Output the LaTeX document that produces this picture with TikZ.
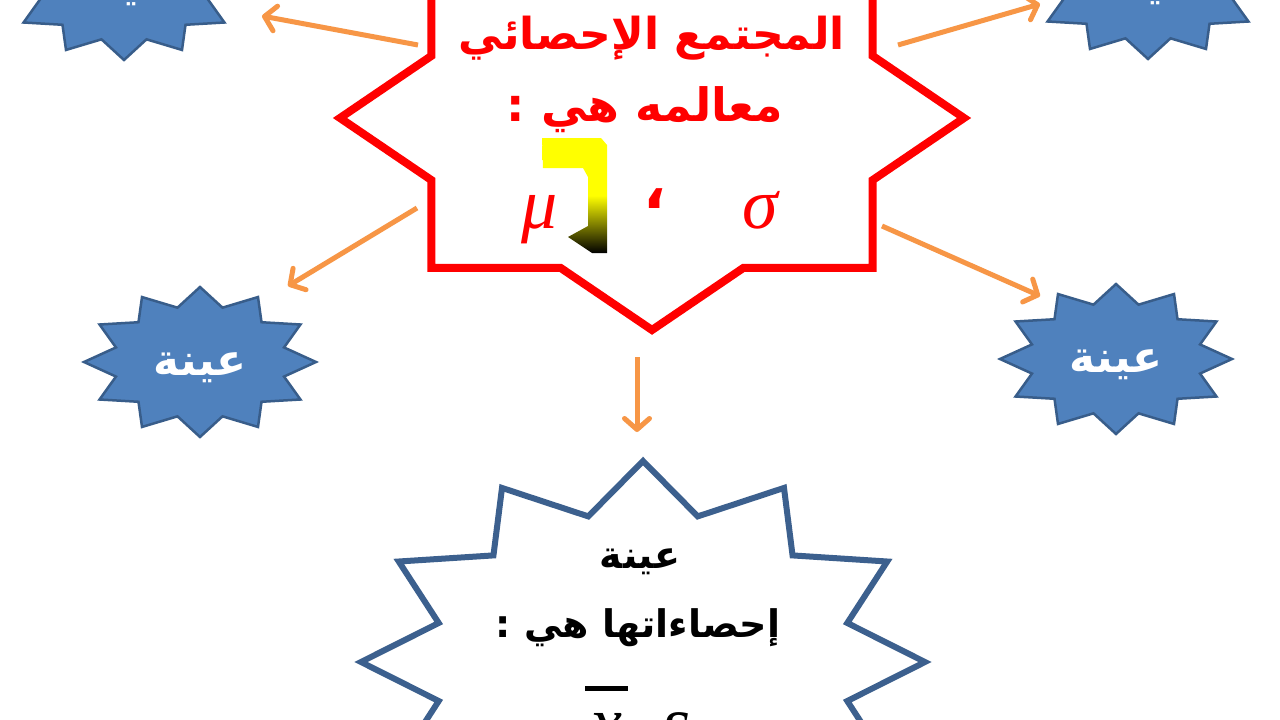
\documentclass[tikz,border=0pt]{standalone}
\usepackage{fontspec}
\newfontfamily\arabicfont[Script=Arabic]{DejaVu Sans}
\newfontfamily\greekfont{Liberation Serif}
\TeXXeTstate=1
\usetikzlibrary{arrows.meta}
\definecolor{popred}{RGB}{255,0,0}
\definecolor{arroworange}{RGB}{247,150,70}
\definecolor{starblue}{RGB}{79,129,189}
\definecolor{starblueline}{RGB}{56,93,138}
\definecolor{sampleline}{RGB}{60,96,142}
\definecolor{shapeyellow}{RGB}{255,255,0}

\begin{document}
\begin{tikzpicture}[x=1pt, y=-1pt,
  popstar/.style={draw=popred, fill=white, line width=8pt, line join=miter},
  bluestar/.style={draw=starblueline, fill=starblue, line width=2.5pt, line join=miter},
  samplestar/.style={draw=sampleline, fill=white, line width=6pt, line join=miter},
  linkarrow/.style={-{Straight Barb[length=11pt, width=25pt, round]}, arroworange, line width=5pt},
  poptext/.style={font=\arabicfont\bfseries\fontsize{44}{52}\selectfont, text=popred},
  startext/.style={font=\arabicfont\bfseries\fontsize{44}{50}\selectfont, text=white},
  sampletext/.style={font=\arabicfont\bfseries\fontsize{38}{44}\selectfont, text=black},
  greek/.style={font=\greekfont\itshape\fontsize{72}{80}\selectfont, text=popred, anchor=base}]
\useasboundingbox (0,0) rectangle (1280,720);
\fill[white] (0,0) rectangle (1280,720);
\clip (0,0) rectangle (1280,720);

\coordinate (tl-tail) at (418,45);
\coordinate (tl-tip) at (262,16);
\coordinate (tr-tail) at (898,45);
\coordinate (tr-tip) at (1040,4);
\coordinate (l-tail) at (417,208);
\coordinate (l-tip) at (288,286);
\coordinate (r-tail) at (882,226);
\coordinate (r-tip) at (1040,296);
\coordinate (down-tail) at (637,357);
\coordinate (down-tip) at (637,432);
\foreach \nm in {tl,tr,l,r,down}
  \draw[linkarrow] (\nm-tail) -- (\nm-tip);

\draw[popstar, shift={(652,118)}] (0:312 and 212)
  \foreach \i [evaluate=\i as \f using {1-0.2346*mod(\i,2)}] in {1,...,15} { -- (\i*22.5:\f*312 and \f*212) } -- cycle;

\foreach \cx/\cy/\nm in {124/-15/tl, 1148/-16/tr, 200/362/l, 1116/359/r} {
  \draw[bluestar, shift={(\cx,\cy)}] (0:116 and 75)
    \foreach \i [evaluate=\i as \f using {1-0.25*mod(\i,2)}] in {1,...,23} { -- (\i*15:\f*116 and \f*75) } -- cycle;
  \node[startext] (sample-\nm) at (\cx,\cy+6) {\beginR عينة\endR};
}

\draw[samplestar, shift={(643,662)}] (0:282 and 201)
  \foreach \i [evaluate=\i as \f using {1-0.25*mod(\i,2)}] in {1,...,23} { -- (\i*15:\f*282 and \f*201) } -- cycle;

\shade[top color=shapeyellow, bottom color=black, middle color=shapeyellow]
  (542,138) -- (601,138) -- (607,145) -- (607,253) -- (592,253) -- (568,237)
  -- (588,226) -- (588,177) -- (583,168) -- (543,168) -- cycle;

\node[poptext] (pop-title) at (652,38) {\beginR المجتمع الإحصائي\endR};
\node[poptext, font=\arabicfont\bfseries\fontsize{46}{52}\selectfont] (pop-params) at (645,110) {\beginR معالمه هي :\endR};
\node[greek] (mu) at (540,228) {μ};
\node[poptext, font=\arabicfont\bfseries\fontsize{60}{60}\selectfont] (comma) at (655,199) {،};
\node[greek] (sigma) at (760,228) {σ};

\node[sampletext] (sample-title) at (640,562) {\beginR عينة\endR};
\node[sampletext] (sample-stats) at (638,628) {\beginR إحصاءاتها هي :\endR};
\draw[line width=5pt] (585,688) -- (628,688);
\node[greek, text=black] (xbar) at (606,746) {x};
\node[greek, text=black] (s) at (677,746) {s};
\end{tikzpicture}
\end{document}
